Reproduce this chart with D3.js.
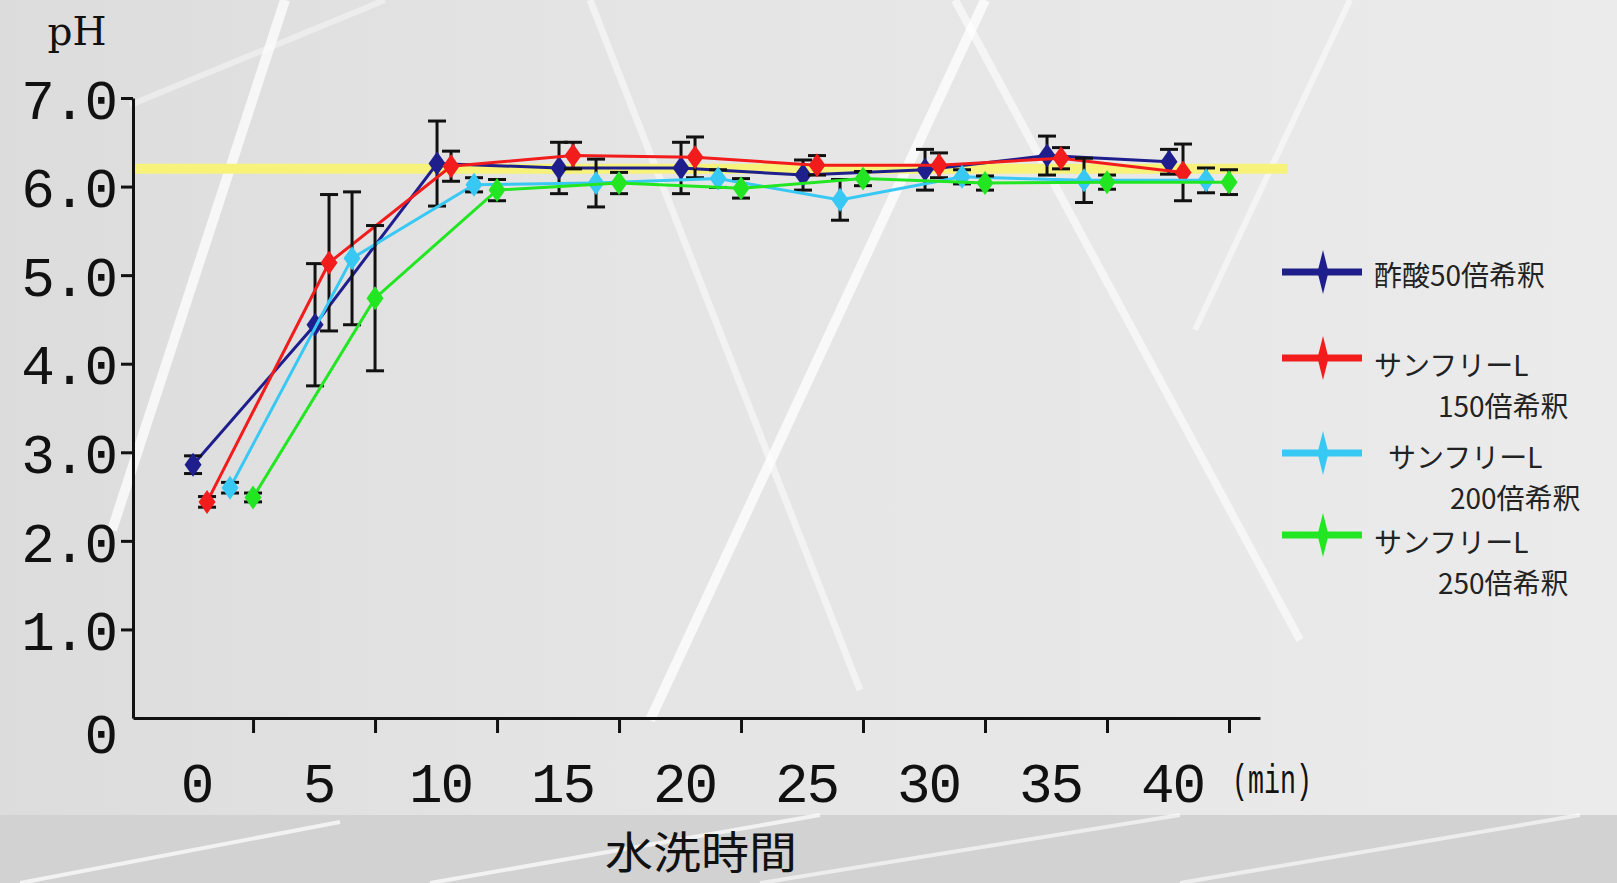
<!DOCTYPE html>
<html>
<head>
<meta charset="utf-8">
<script src="https://cdn.jsdelivr.net/npm/d3@7"></script>
<style>
body { margin: 0; background: #e4e4e4; }
svg { display: block; }
.axis text { font-family: "Liberation Mono", monospace; fill: #111; }
</style>
</head>
<body>
<div id="chart"></div>
<script>
var minutes = [0, 5, 10, 15, 20, 25, 30, 35, 40]
var xTickLabels = ["0", "5", "10", "15", "20", "25", "30", "35", "40"]
var yTickValues = [0, 1, 2, 3, 4, 5, 6, 7]
var seriesNames = ["酢酸50倍希釈", "サンフリーL 150倍希釈", "サンフリーL 200倍希釈", "サンフリーL 250倍希釈"]

// pH means and error bar half-heights
var acetic50 = [2.86, 4.44, 6.26, 6.21, 6.21, 6.13, 6.19, 6.35, 6.28]
var acetic50Sd = [0.10, 0.69, 0.48, 0.29, 0.29, 0.17, 0.23, 0.22, 0.14]
var sunfree150 = [2.44, 5.14, 6.23, 6.35, 6.33, 6.24, 6.24, 6.32, 6.16]
var sunfree150Sd = [0.06, 0.77, 0.17, 0.15, 0.23, 0.11, 0.14, 0.12, 0.32]
var sunfree200 = [2.60, 5.19, 6.02, 6.04, 6.09, 5.85, 6.11, 6.07, 6.07]
var sunfree200Sd = [0.06, 0.75, 0.08, 0.27, 0.10, 0.23, 0.08, 0.25, 0.14]
var sunfree250 = [2.49, 4.74, 5.96, 6.04, 5.98, 6.09, 6.04, 6.05, 6.05]
var sunfree250Sd = [0.05, 0.82, 0.12, 0.12, 0.11, 0.08, 0.08, 0.08, 0.14]
var referencePH = 6.2
var referenceEnd = 42.4

var width = 1617, height = 883

var series = [
    { name: seriesNames[0], values: acetic50, sd: acetic50Sd, color: "#1e1e8c", dx: -60 },
    { name: seriesNames[1], values: sunfree150, sd: sunfree150Sd, color: "#f21c1c", dx: -46 },
    { name: seriesNames[2], values: sunfree200, sd: sunfree200Sd, color: "#38c8f4", dx: -23 },
    { name: seriesNames[3], values: sunfree250, sd: sunfree250Sd, color: "#22e622", dx: 0 }
]

// legend layout: line y, first/second label line positions
var legendRows = [
    { y: 272, lines: ["酢酸50倍希釈"], x: [1374], ty: [286] },
    { y: 358, lines: ["サンフリーL", "150倍希釈"], x: [1374, 1438], ty: [376, 417] },
    { y: 453, lines: ["サンフリーL", "200倍希釈"], x: [1388, 1450], ty: [468, 509] },
    { y: 535, lines: ["サンフリーL", "250倍希釈"], x: [1374, 1438], ty: [553, 594] }
]

var x = d3.scaleLinear().domain([-4.92, 41.27]).range([133, 1260])
var y = d3.scaleLinear().domain([0, 7]).range([718, 98])

var svg = d3.select("#chart").append("svg")
    .attr("width", width)
    .attr("height", height)

drawBackground()

function drawBackground() {
    var defs = svg.append("defs")
    var grad = defs.append("linearGradient").attr("id", "bg").attr("x1", 0).attr("x2", 1).attr("y1", 0).attr("y2", 0)
    grad.append("stop").attr("offset", 0).attr("stop-color", "#dcdcdc")
    grad.append("stop").attr("offset", 0.35).attr("stop-color", "#e4e4e4")
    grad.append("stop").attr("offset", 1).attr("stop-color", "#ebebeb")
    svg.append("rect").attr("width", width).attr("height", height).attr("fill", "url(#bg)")
    svg.append("rect").attr("y", 815).attr("width", width).attr("height", height - 815).attr("fill", "#d2d2d2")

    // decorative white streaks of the backdrop
    var streaks = [
        [285, 0, 112, 530, 10, 0.75], [130, 105, 385, 0, 6, 0.4], [590, 0, 860, 690, 7, 0.5],
        [985, 0, 650, 720, 10, 0.75], [955, 0, 1300, 640, 8, 0.6], [1350, 0, 1195, 330, 6, 0.5],
        [20, 883, 340, 822, 4, 0.7], [430, 883, 820, 815, 4, 0.7], [760, 883, 1180, 815, 4, 0.6],
        [1180, 883, 1580, 815, 4, 0.6]
    ]
    svg.append("g").selectAll("line").data(streaks).join("line")
        .attr("x1", d => d[0]).attr("y1", d => d[1]).attr("x2", d => d[2]).attr("y2", d => d[3])
        .attr("stroke", "#fff").attr("stroke-width", d => d[4]).attr("stroke-opacity", d => d[5])
}

// reference line
svg.append("line")
    .attr("x1", x(x.domain()[0])).attr("x2", x(referenceEnd))
    .attr("y1", y(referencePH)).attr("y2", y(referencePH))
    .attr("stroke", "#f6f27a").attr("stroke-width", 10)

// axes
var yAxis = svg.append("g").attr("class", "axis")
    .attr("transform", "translate(" + x(x.domain()[0]) + ",0)")
    .call(d3.axisLeft(y).tickValues(yTickValues).tickSize(12).tickSizeOuter(0).tickPadding(5)
        .tickFormat(d => d === 0 ? "0" : d3.format(".1f")(d)))
yAxis.select(".domain").attr("stroke", "#111").attr("stroke-width", 3)
yAxis.selectAll(".tick line").attr("stroke", "#111").attr("stroke-width", 3)
    .attr("x2", d => d === 0 ? 0 : -12)
yAxis.selectAll(".tick text").attr("font-size", 56).attr("letter-spacing", -2)
    .attr("dy", d => d === 0 ? "0.62em" : "0.36em")

var xAxis = svg.append("g").attr("class", "axis")
    .attr("transform", "translate(0," + y(0) + ")")
    .call(d3.axisBottom(x).tickValues(minutes).tickSize(15).tickSizeOuter(0)
        .tickFormat((d, i) => xTickLabels[i]))
xAxis.select(".domain").attr("stroke", "#111").attr("stroke-width", 3)
xAxis.selectAll(".tick line").attr("stroke", "#111").attr("stroke-width", 3)
xAxis.selectAll(".tick text").attr("font-size", 56).attr("letter-spacing", -2)
    .attr("x", -57).attr("y", 84).attr("dy", 0)

svg.append("text")
    .attr("x", 1232).attr("y", 793)
    .attr("font-family", "Liberation Mono, monospace").attr("font-size", 40)
    .attr("textLength", 80).attr("lengthAdjust", "spacingAndGlyphs")
    .attr("fill", "#111")
    .text("(min)")

svg.append("text")
    .attr("x", 77).attr("y", 45)
    .attr("text-anchor", "middle")
    .attr("font-family", "DejaVu Serif, serif").attr("font-size", 39)
    .attr("fill", "#111")
    .text("pH")

svg.append("text")
    .attr("x", 605).attr("y", 869)
    .attr("font-family", "Noto Sans CJK JP, sans-serif").attr("font-size", 44)
    .attr("textLength", 192).attr("lengthAdjust", "spacingAndGlyphs")
    .attr("fill", "#111")
    .text("水洗時間")

function spindle(w, h) {
    return "M0," + (-h / 2) + "L" + (w / 2) + ",0L0," + (h / 2) + "L" + (-w / 2) + ",0Z"
}

var line = d3.line().x((d, i) => x(minutes[i])).y(d => y(d))

series.forEach(function (s) {
    var g = svg.append("g").attr("transform", "translate(" + s.dx + ",0)")
    g.append("path").attr("d", line(s.values))
        .attr("fill", "none").attr("stroke", s.color).attr("stroke-width", 3)

    var bars = g.append("g").selectAll("g").data(s.values).join("g")
    bars.append("line")
        .attr("x1", (d, i) => x(minutes[i])).attr("x2", (d, i) => x(minutes[i]))
        .attr("y1", (d, i) => y(d + s.sd[i])).attr("y2", (d, i) => y(d - s.sd[i]))
        .attr("stroke", "#111").attr("stroke-width", 3)
    bars.selectAll("line.cap").data((d, i) => [[i, d + s.sd[i]], [i, d - s.sd[i]]]).join("line")
        .attr("class", "cap")
        .attr("x1", d => x(minutes[d[0]]) - 9).attr("x2", d => x(minutes[d[0]]) + 9)
        .attr("y1", d => y(d[1])).attr("y2", d => y(d[1]))
        .attr("stroke", "#111").attr("stroke-width", 3)

    g.append("g").selectAll("path").data(s.values).join("path")
        .attr("d", spindle(17, 24))
        .attr("transform", (d, i) => "translate(" + x(minutes[i]) + "," + y(d) + ")")
        .attr("fill", s.color)
})

// legend
var legend = svg.append("g")
legendRows.forEach(function (row, k) {
    legend.append("line")
        .attr("x1", 1282).attr("x2", 1362).attr("y1", row.y).attr("y2", row.y)
        .attr("stroke", series[k].color).attr("stroke-width", 7)
    legend.append("path").attr("d", spindle(11, 44))
        .attr("transform", "translate(1323," + row.y + ")")
        .attr("fill", series[k].color)
    row.lines.forEach(function (t, j) {
        legend.append("text")
            .attr("x", row.x[j]).attr("y", row.ty[j])
            .attr("font-family", "Noto Sans CJK JP, sans-serif").attr("font-size", 28)
            .attr("fill", "#222")
            .text(t)
    })
})
</script>
</body>
</html>
